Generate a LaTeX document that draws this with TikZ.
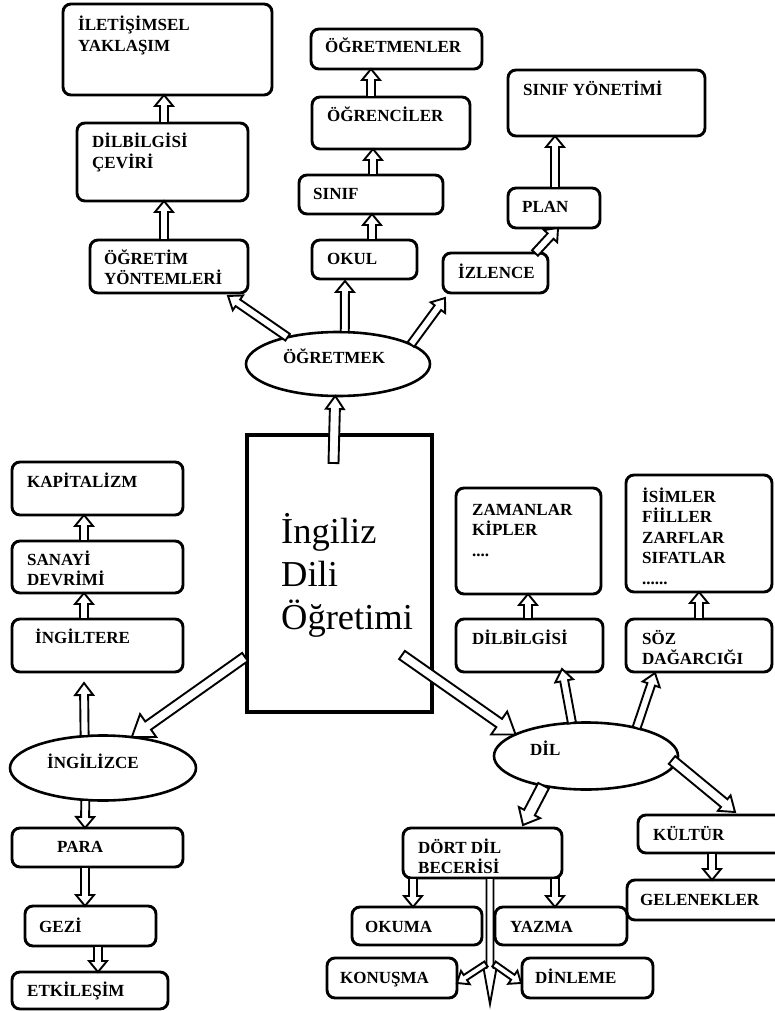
\documentclass[tikz,border=0pt]{standalone}
\usepackage{fontspec}
\setmainfont{Liberation Serif}
\usetikzlibrary{calc,shapes.geometric}
\newcommand\lines[1]{\begin{tabular}[t]{@{}l@{}}#1\end{tabular}}
% hollow block arrow: from, to, half shaft, half head, head length
\newcommand\harrow[5]{%
  \coordinate (hA) at #1;
  \coordinate (hB) at #2;
  \coordinate (hC) at ($(hB)!#5pt!(hA)$);
  \draw[harr] ($(hA)!#3pt!90:(hB)$) -- ($(hC)!#3pt!-90:(hA)$) -- ($(hC)!#4pt!-90:(hA)$) -- (hB) -- ($(hC)!#4pt!90:(hA)$) -- ($(hC)!#3pt!90:(hA)$) -- ($(hA)!#3pt!-90:(hB)$) -- cycle;
}
\newcommand\bx[5]{\node[box, minimum width={(#4-#2)*1pt}, minimum height={(#5-#3)*1pt}] (#1) at ({(#2+#4)/2},{(#3+#5)/2}) {};}
\begin{document}
\begin{tikzpicture}[x=1pt,y=-1pt,
  box/.style={draw, line width=2.9pt, rounded corners=8pt, inner sep=0pt, outer sep=0pt},
  ell/.style={draw, ellipse, line width=2.6pt, inner sep=0pt, outer sep=0pt},
  lbl/.style={font=\bfseries\fontsize{17}{20.5}\selectfont, inner sep=0pt, anchor=base west},
  harr/.style={draw, fill=white, line width=1.9pt, line join=miter}]
\useasboundingbox (0,0) rectangle (774,1011);
% ---------- boxes ----------
\bx{ilet}{63}{4}{272}{95}
\bx{dilcev}{77}{123}{248}{201}
\bx{ogyon}{90}{240}{248}{293}
\bx{ogretmenler}{311}{29}{482}{69}
\bx{ogrenciler}{312}{97}{470}{149}
\bx{sinif}{299}{175}{443}{214}
\bx{okul}{312}{240}{417}{279}
\bx{sinifyon}{508}{70}{705}{136}
\bx{plan}{508}{188}{600}{228}
\bx{izlence}{443}{253}{548}{293}
\bx{kapital}{12}{462}{183}{515}
\bx{sanayi}{12}{541}{183}{593}
\bx{ingiltere}{12}{619}{183}{672}
\bx{para}{12}{828}{183}{867}
\bx{gezi}{25}{906}{156}{946}
\bx{etkilesim}{12}{972}{168}{1009}
\bx{zaman}{456}{488}{601}{594}
\bx{isimler}{626}{475}{772}{592}
\bx{dilbilgisi}{456}{619}{603}{672}
\bx{soz}{626}{619}{772}{672}
\bx{dort}{403}{828}{562}{878}
\bx{kultur}{638}{815}{790}{853}
\bx{gelenek}{627}{880}{790}{920}
\bx{okuma}{352}{907}{482}{945}
\bx{yazma}{495}{907}{627}{945}
\bx{konusma}{327}{958}{457}{998}
\bx{dinleme}{522}{958}{653}{998}
\node[draw, line width=3.6pt, minimum width=185pt, minimum height=277pt, inner sep=0pt, outer sep=0pt] (main) at (339.5,573.5) {};
\node[ell, minimum width=184pt, minimum height=64pt] (ogretmek) at (338,364) {};
\node[ell, minimum width=186pt, minimum height=65pt] (ingilizce) at (103,768) {};
\node[ell, minimum width=184pt, minimum height=67pt] (dil) at (586,756) {};
% ---------- labels ----------
\node[lbl] (t-ilet) at (78,31) {\lines{İLETİŞİMSEL\\YAKLAŞIM}};
\node[lbl] (t-dilcev) at (92,148) {\lines{DİLBİLGİSİ\\ÇEVİRİ}};
\node[lbl] (t-ogyon) at (104,264) {\lines{ÖĞRETİM\\YÖNTEMLERİ}};
\node[lbl] (t-ogretmenler) at (325,53) {ÖĞRETMENLER};
\node[lbl] (t-ogrenciler) at (327,122) {ÖĞRENCİLER};
\node[lbl] (t-sinif) at (313,199) {SINIF};
\node[lbl] (t-okul) at (327,264) {OKUL};
\node[lbl] (t-sinifyon) at (523,96) {SINIF YÖNETİMİ};
\node[lbl] (t-plan) at (522,212) {PLAN};
\node[lbl] (t-izlence) at (458,278) {İZLENCE};
\node[lbl, anchor=base] (t-ogretmek) at (334,363) {ÖĞRETMEK};
\node[inner sep=0pt, anchor=base west, font=\fontsize{36.5}{43}\selectfont] (t-main) at (281,543) {\lines{İngiliz\\Dili\\Öğretimi}};
\node[lbl] (t-kapital) at (27,487) {KAPİTALİZM};
\node[lbl] (t-sanayi) at (27,565) {\lines{SANAYİ\\DEVRİMİ}};
\node[lbl] (t-ingiltere) at (35,643) {İNGİLTERE};
\node[lbl, anchor=base] (t-ingilizce) at (93,768) {İNGİLİZCE};
\node[lbl] (t-para) at (57,852) {PARA};
\node[lbl] (t-gezi) at (39,932) {GEZİ};
\node[lbl] (t-etkilesim) at (27,996) {ETKİLEŞİM};
\node[lbl] (t-zaman) at (472,515) {\lines{ZAMANLAR\\KİPLER\\....}};
\node[lbl] (t-isimler) at (642,502) {\lines{İSİMLER\\FİİLLER\\ZARFLAR\\SIFATLAR\\......}};
\node[lbl] (t-dilbilgisi) at (472,644) {DİLBİLGİSİ};
\node[lbl] (t-soz) at (642,644) {\lines{SÖZ\\DAĞARCIĞI}};
\node[lbl] (t-dil) at (530,755) {DİL};
\node[lbl] (t-dort) at (418,853) {\lines{DÖRT DİL\\BECERİSİ}};
\node[lbl] (t-kultur) at (653,840) {KÜLTÜR};
\node[lbl] (t-gelenek) at (640,905) {GELENEKLER};
\node[lbl] (t-okuma) at (365,932) {OKUMA};
\node[lbl] (t-yazma) at (510,932) {YAZMA};
\node[lbl] (t-konusma) at (340,983) {KONUŞMA};
\node[lbl] (t-dinleme) at (535,983) {DİNLEME};
% ---------- connectors ----------
\coordinate (spike) at (490,1004);
\coordinate (brL) at (486,964);
\coordinate (brR) at (494,964);
% top-left branch
\harrow{(164,0 |- dilcev.north)}{(164,0 |- ilet.south)}{4}{9}{11}
\harrow{(164,0 |- ogyon.north)}{(164,0 |- dilcev.south)}{4}{9}{11}
% top-middle branch
\harrow{(371,0 |- ogrenciler.north)}{(371,0 |- ogretmenler.south)}{4}{9}{11}
\harrow{(373,0 |- sinif.north)}{(373,0 |- ogrenciler.south)}{4}{9}{11}
\harrow{(372,0 |- okul.north)}{(372,0 |- sinif.south)}{4}{9}{11}
\harrow{(ogretmek.78)}{($(372,0 |- okul.south)+(-27,2)$)}{4}{9}{11}
% top-right branch
\harrow{(555,0 |- plan.north)}{(555,0 |- sinifyon.south)}{4}{9}{11}
\harrow{($(izlence.north east)+(-13,0)$)}{($(plan.south)+(4,0)$)}{4}{9}{11}
% from ÖĞRETMEK
\harrow{(ogretmek.152)}{($(ogyon.south east)+(-20,3)$)}{4}{9}{12}
\harrow{(ogretmek.15)}{($(izlence.south west)+(2,5)$)}{4}{9}{12}
\harrow{($(main.north)+(-6,28)$)}{(ogretmek.265)}{5}{9}{13}
% left branch
\harrow{(84,0 |- sanayi.north)}{(84,0 |- kapital.south)}{4}{9}{11}
\harrow{(84,0 |- ingiltere.north)}{(84,0 |- sanayi.south)}{4}{9}{11}
\harrow{(ingilizce.120)}{($(84,0 |- ingiltere.south)+(0,11)$)}{4}{9}{12}
\harrow{($(main.south west)+(-2,-55)$)}{(ingilizce.47)}{5}{14}{20}
\harrow{(ingilizce.241)}{(85,0 |- para.north)}{4}{9}{11}
\harrow{(85,0 |- para.south)}{(85,0 |- gezi.north)}{4}{9}{11}
\harrow{(98,0 |- gezi.south)}{(98,0 |- etkilesim.north)}{4}{9}{11}
% right branch
\harrow{($(main.south east)+(-30,-57)$)}{(dil.163)}{5}{14}{20}
\harrow{(528,0 |- dilbilgisi.north)}{(528,0 |- zaman.south)}{4}{9}{11}
\harrow{(699,0 |- soz.north)}{(699,0 |- isimler.south)}{4}{9}{11}
\harrow{(dil.113)}{($(562,0 |- dilbilgisi.south)+(0,-3)$)}{4}{9}{12}
\harrow{(dil.29)}{($(655,0 |- soz.south)+(0,1)$)}{4}{9}{12}
\harrow{(dil.215)}{($(523,0 |- dort.north)+(0,-3)$)}{6}{12}{14}
\harrow{($(dil.east)+(-6,4)$)}{($(735,0 |- kultur.north)+(0,-3)$)}{5}{10}{14}
\harrow{(712,0 |- kultur.south)}{(712,0 |- gelenek.north)}{4}{9}{11}
% four skills
\harrow{(413,0 |- dort.south)}{(413,0 |- okuma.north)}{4}{9}{11}
\harrow{(555,0 |- dort.south)}{(555,0 |- yazma.north)}{4}{9}{11}
\harrow{(490,0 |- dort.south)}{(spike)}{3.5}{6.5}{36}
\harrow{(brL)}{($(konusma.east)+(0,5)$)}{3}{8}{10}
\harrow{(brR)}{($(dinleme.west)+(-1,5)$)}{3}{8}{10}
\end{tikzpicture}
\end{document}
